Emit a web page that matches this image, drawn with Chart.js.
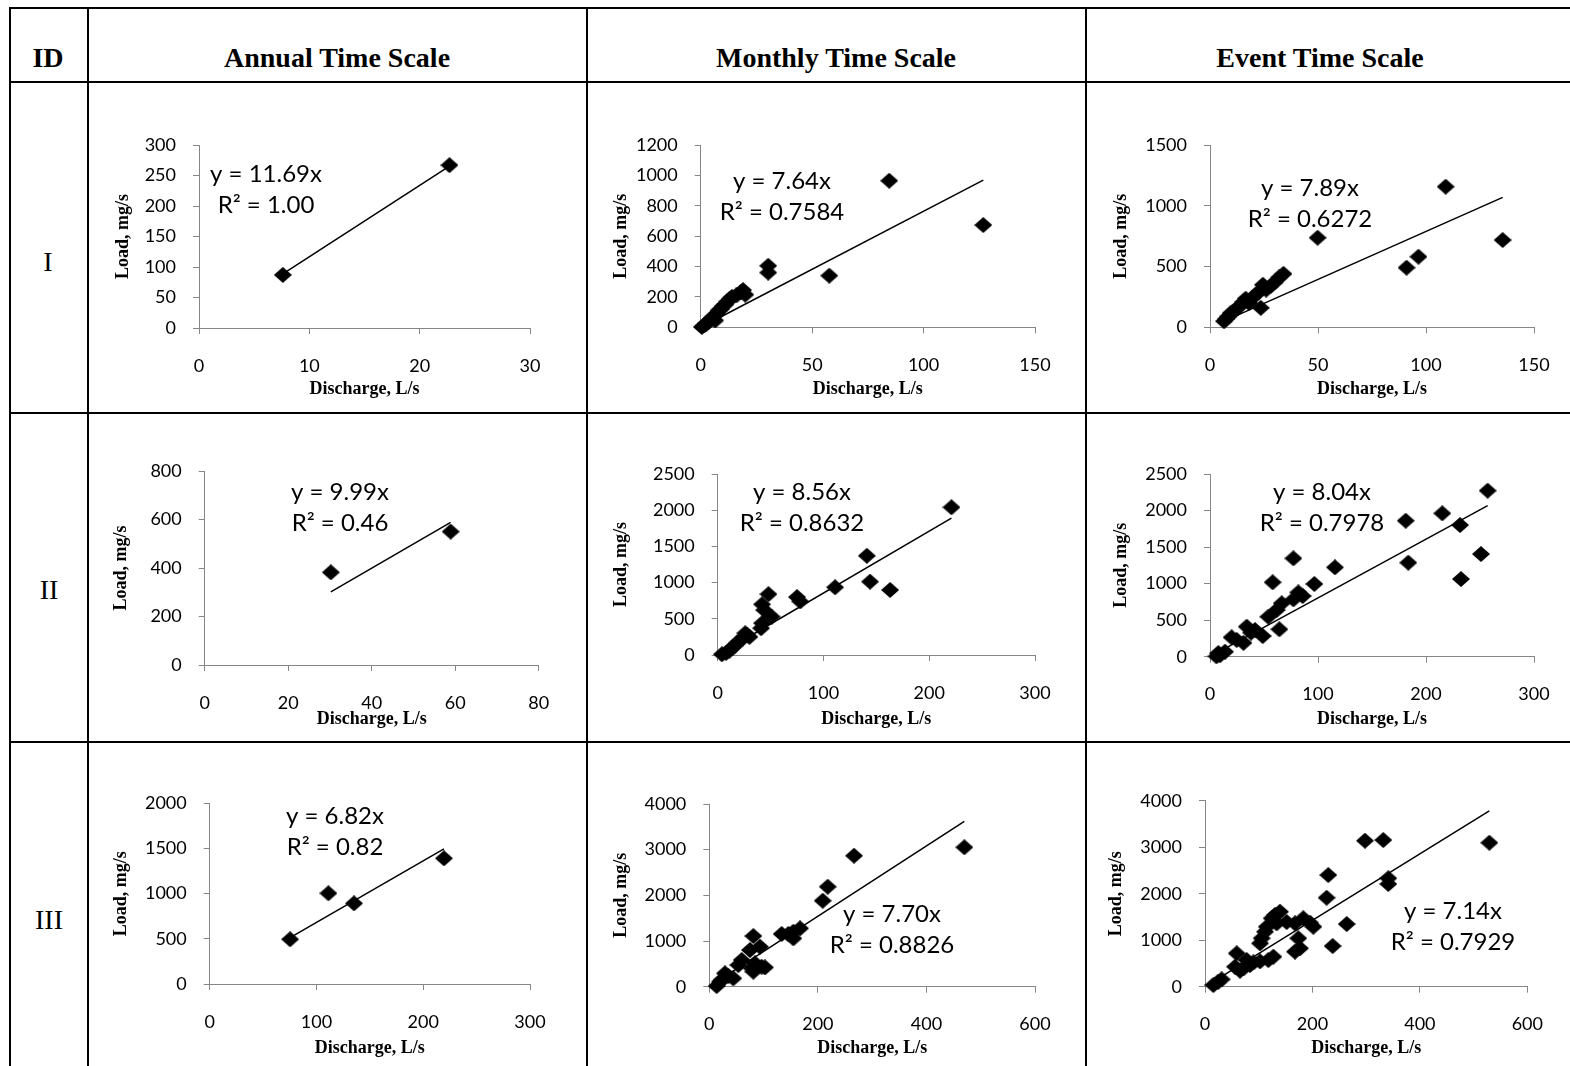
<!DOCTYPE html>
<html>
<head>
<meta charset="utf-8">
<script src="https://cdn.jsdelivr.net/npm/chart.js@4"></script>
<style>
  body { margin: 0; background: #fff; }
  #page { position: relative; width: 1570px; height: 1066px; overflow: hidden; background: #fff; }
  .hl { position: absolute; height: 2px; background: #000; }
  .vl { position: absolute; width: 2px; background: #000; }
  .txt { position: absolute; transform: translate(-50%, -50%); white-space: nowrap; line-height: 1;
         font-family: 'Liberation Serif', 'Times New Roman', serif; color: #000; font-size: 28px; }
  .head { font-weight: bold; }
  canvas { position: absolute; }
</style>
</head>
<body>
<div id="page">
  <!-- table rules -->
  <div class="hl" style="left:9px; top:7px; width:1561px"></div>
  <div class="hl" style="left:9px; top:81px; width:1561px"></div>
  <div class="hl" style="left:9px; top:412px; width:1561px"></div>
  <div class="hl" style="left:9px; top:741px; width:1561px"></div>
  <div class="vl" style="left:9px; top:7px; height:1059px"></div>
  <div class="vl" style="left:87px; top:7px; height:1059px"></div>
  <div class="vl" style="left:586px; top:7px; height:1059px"></div>
  <div class="vl" style="left:1085px; top:7px; height:1059px"></div>
</div>

<script>
// ---- table labels ----
const columnTitles = ['ID', 'Annual Time Scale', 'Monthly Time Scale', 'Event Time Scale'];
const rowIds = ['I', 'II', 'III'];

// ---- data (discharge L/s, load mg/s) ----
// Row I
const dischargeIAnnual = [7.6, 22.7];
const loadIAnnual = [87, 267];
const dischargeIMonthly = [0.5, 1.5, 2.5, 3.5, 4.5, 5.5, 6.5, 7.2, 8, 9, 10, 11, 12, 13, 14, 16, 18, 19, 20, 30.3, 30.3, 57.7, 84.6, 126.8];
const loadIMonthly = [2, 12, 25, 35, 55, 70, 45, 90, 110, 120, 140, 150, 170, 185, 200, 210, 230, 245, 215, 405, 360, 340, 965, 673];
const dischargeIEvent = [6.5, 7.5, 8.5, 9.5, 11, 12.5, 14, 15.5, 16.5, 18, 19.5, 21, 22.5, 23.5, 24.5, 26, 28, 30, 32, 34, 49.8, 91, 96.5, 109.1, 135.5];
const loadIEvent = [50, 70, 90, 115, 130, 155, 180, 210, 235, 200, 240, 265, 290, 160, 350, 310, 340, 370, 410, 440, 737, 491, 581, 1157, 718];

// Row II
const dischargeIIAnnual = [30.2, 58.9];
const loadIIAnnual = [382, 550];
const dischargeIIMonthly = [4, 8, 11, 13, 16, 18, 21, 24, 26, 28, 30, 41, 42, 44, 42, 48, 51, 75, 78, 111, 141, 144, 163, 221];
const loadIIMonthly = [10, 30, 60, 90, 130, 160, 200, 240, 300, 270, 250, 370, 440, 620, 700, 840, 530, 800, 740, 935, 1370, 1013, 898, 2040];
const dischargeIIEvent = [6, 7.7, 9.3, 13.9, 20, 24.7, 31, 34, 38, 41.7, 48.8, 54, 58, 61.7, 64.2, 66.4, 77.2, 77.2, 81.8, 85.8, 96.6, 115.7, 181.2, 183.6, 215.1, 231.5, 232.4, 250.9, 257.1];
const loadIIEvent = [5, 50, 20, 68, 265, 230, 190, 411, 330, 365, 283, 547, 1018, 639, 375, 730, 785, 1346, 880, 830, 995, 1223, 1861, 1287, 1962, 1802, 1063, 1405, 2272];

// Row III
const dischargeIIIAnnual = [75.3, 111.2, 135.2, 219.4];
const loadIIIAnnual = [495, 1004, 893, 1391];
const dischargeIIIMonthly = [13.5, 19.7, 22.8, 28.9, 35, 44.2, 53.5, 59.7, 74.9, 78.1, 81.1, 81.1, 84.1, 93.3, 96.4, 102.5, 133.3, 145.6, 154.8, 154.8, 167.1, 208.9, 218.1, 266.6, 469.8];
const loadIIIMonthly = [15, 110, 146, 292, 232, 183, 475, 584, 803, 402, 1110, 330, 511, 876, 438, 423, 1154, 1154, 1204, 1059, 1278, 1883, 2189, 2868, 3052];
const dischargeIIIEvent = [15.5, 24.8, 31, 55.9, 59, 65.2, 71.4, 77.6, 83.8, 90, 102.4, 102.4, 105.5, 111.7, 115, 117.9, 124.1, 127.2, 130.3, 133.4, 139.6, 152, 167.5, 167.5, 173.7, 176.8, 183, 195.5, 201.7, 226.4, 229.5, 237.7, 263.8, 297.8, 331.9, 341.2, 341.2, 529.3];
const loadIIIEvent = [36, 108, 158, 430, 717, 344, 394, 573, 466, 523, 545, 933, 1041, 1183, 1290, 573, 1470, 645, 1542, 1362, 1613, 1391, 1362, 753, 1041, 826, 1471, 1376, 1290, 1914, 2402, 875, 1348, 3140, 3154, 2331, 2209, 3097];

// trendline fits (y = a x) and R² as printed on each panel
const slopes = [11.69, 7.64, 7.89, 9.99, 8.56, 8.04, 6.82, 7.70, 7.14];
const r2Labels = ['1.00', '0.7584', '0.6272', '0.46', '0.8632', '0.7978', '0.82', '0.8826', '0.7929'];

// axis ranges per panel
const xMax = [30, 150, 150, 80, 300, 300, 300, 600, 600];
const xStep = [10, 50, 50, 20, 100, 100, 100, 200, 200];
const yMax = [300, 1200, 1500, 800, 2500, 2500, 2000, 4000, 4000];
const yStep = [50, 200, 500, 200, 500, 500, 500, 1000, 1000];

const seriesX = [dischargeIAnnual, dischargeIMonthly, dischargeIEvent,
                 dischargeIIAnnual, dischargeIIMonthly, dischargeIIEvent,
                 dischargeIIIAnnual, dischargeIIIMonthly, dischargeIIIEvent];
const seriesY = [loadIAnnual, loadIMonthly, loadIEvent,
                 loadIIAnnual, loadIIMonthly, loadIIEvent,
                 loadIIIAnnual, loadIIIMonthly, loadIIIEvent];

// ---- page layout (pixels) ----
const headerPos = [[48, 58], [337, 58], [836, 58], [1320, 58]];
const rowIdPos = [[48, 262], [49, 590], [49, 920]];
// plot area, centre of the y title, centre of the x title, centre of first equation line
const panelLayout = [
  { l: 199,   t: 145,   r: 530,    b: 328,   yTitleX: 124, xTitleY: 389,  eq: [266, 173] },
  { l: 700.7, t: 145,   r: 1035,   b: 327.3, yTitleX: 622, xTitleY: 389,  eq: [782, 180] },
  { l: 1210,  t: 145,   r: 1534,   b: 327.3, yTitleX: 1122, xTitleY: 389, eq: [1310, 187] },
  { l: 204.7, t: 471,   r: 538.8,  b: 665,   yTitleX: 122, xTitleY: 719,  eq: [340, 491] },
  { l: 717.7, t: 474,   r: 1035,   b: 655,   yTitleX: 622, xTitleY: 719,  eq: [802, 491] },
  { l: 1210,  t: 474,   r: 1534,   b: 656.7, yTitleX: 1122, xTitleY: 719, eq: [1322, 491] },
  { l: 209.7, t: 803.3, r: 530,    b: 984,   yTitleX: 122, xTitleY: 1048, eq: [335, 815] },
  { l: 709.3, t: 804,   r: 1035,   b: 986.7, yTitleX: 622, xTitleY: 1048, eq: [892, 913] },
  { l: 1205,  t: 800.7, r: 1527.3, b: 986.7, yTitleX: 1117, xTitleY: 1048, eq: [1453, 910] }
];

const page = document.getElementById('page');

function addText(text, x, y, cls) {
  const d = document.createElement('div');
  d.className = 'txt' + (cls ? ' ' + cls : '');
  d.style.left = x + 'px';
  d.style.top = y + 'px';
  d.textContent = text;
  page.appendChild(d);
}
columnTitles.forEach((t, i) => addText(t, headerPos[i][0], headerPos[i][1], 'head'));
rowIds.forEach((t, i) => addText(t, rowIdPos[i][0], rowIdPos[i][1]));

// Excel-like diamond marker
function makeDiamond(w, h) {
  const c = document.createElement('canvas');
  c.width = w; c.height = h;
  const g = c.getContext('2d');
  g.fillStyle = '#000';
  g.beginPath();
  g.moveTo(w / 2, 0); g.lineTo(w, h / 2); g.lineTo(w / 2, h); g.lineTo(0, h / 2);
  g.closePath();
  g.fill();
  return c;
}
const diamond = makeDiamond(18, 16);

// draws the trendline equation and R² inside the plot
const equationLabel = {
  id: 'equationLabel',
  afterDatasetsDraw(chart, args, opts) {
    const ctx = chart.ctx;
    ctx.save();
    ctx.font = '24px Lato';
    ctx.fillStyle = '#000';
    ctx.textAlign = 'center';
    ctx.textBaseline = 'alphabetic';
    opts.lines.forEach((t, i) => ctx.fillText(t, opts.x, opts.y + i * 31 + 8.5));
    ctx.restore();
  }
};

Chart.defaults.font.family = 'Lato';
const axisGray = '#868686';
const titleFont = { family: 'Liberation Serif', weight: 'bold', size: 18 };
const TITLE_LH = 18 * 1.2;
const plainNumber = v => String(v);

panelLayout.forEach((p, i) => {
  const left = Math.round(p.yTitleX - TITLE_LH / 2);
  const top = Math.round(p.t - 40);
  const right = Math.round(p.r + 50);
  const bottom = Math.round(p.xTitleY + TITLE_LH / 2);

  const canvas = document.createElement('canvas');
  canvas.width = right - left;
  canvas.height = bottom - top;
  canvas.style.left = left + 'px';
  canvas.style.top = top + 'px';
  page.appendChild(canvas);

  const xs = seriesX[i], ys = seriesY[i];
  const points = xs.map((x, k) => ({ x: x, y: ys[k] }));
  const xLo = Math.min(...xs), xHi = Math.max(...xs);
  const trend = [{ x: xLo, y: slopes[i] * xLo }, { x: xHi, y: slopes[i] * xHi }];

  new Chart(canvas, {
    type: 'scatter',
    data: {
      datasets: [
        { data: points, pointStyle: diamond, pointRadius: 9, clip: false },
        { data: trend, showLine: true, borderColor: '#000', borderWidth: 1.5, pointRadius: 0, clip: false }
      ]
    },
    options: {
      responsive: false,
      animation: false,
      events: [],
      layout: { padding: { left: 0, bottom: 0, top: p.t - top, right: right - p.r } },
      plugins: {
        legend: { display: false },
        tooltip: { enabled: false },
        equationLabel: {
          lines: ['y = ' + slopes[i].toFixed(2) + 'x', 'R\u00b2 = ' + r2Labels[i]],
          x: p.eq[0] - left,
          y: p.eq[1] - top
        }
      },
      scales: {
        x: {
          type: 'linear', min: 0, max: xMax[i],
          ticks: { stepSize: xStep[i], autoSkip: false, maxRotation: 0, padding: 21, color: '#000',
                   font: { size: 18 }, callback: plainNumber },
          grid: { drawOnChartArea: false, drawTicks: true, tickLength: 6, color: axisGray, tickColor: axisGray },
          border: { display: true, color: axisGray, width: 1 },
          title: { display: true, text: 'Discharge, L/s', padding: 0, color: '#000', font: titleFont },
          afterFit: s => { s.height = bottom - p.b; }
        },
        y: {
          type: 'linear', min: 0, max: yMax[i],
          ticks: { stepSize: yStep[i], autoSkip: false, padding: 17, color: '#000',
                   font: { size: 18 }, callback: plainNumber },
          grid: { drawOnChartArea: false, drawTicks: true, tickLength: 6, color: axisGray, tickColor: axisGray },
          border: { display: true, color: axisGray, width: 1 },
          title: { display: true, text: 'Load, mg/s', padding: 0, color: '#000', font: titleFont },
          afterFit: s => { s.width = p.l - left; }
        }
      }
    },
    plugins: [equationLabel]
  });
});
</script>
</body>
</html>
